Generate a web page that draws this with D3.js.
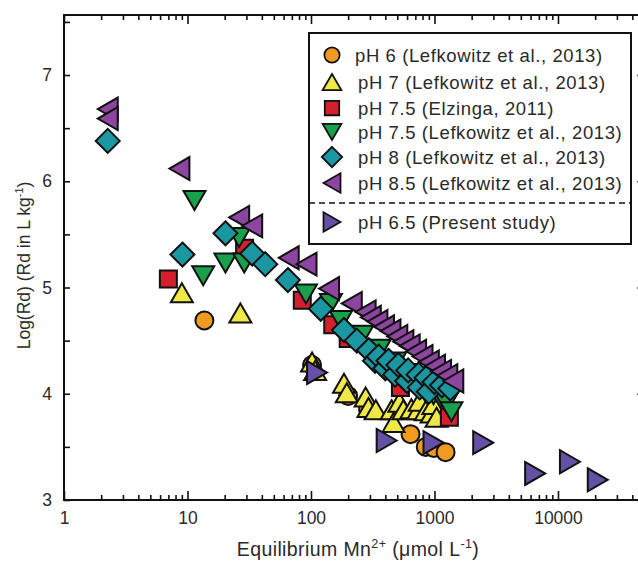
<!DOCTYPE html>
<html>
<head>
<meta charset="utf-8">
<script src="https://cdn.jsdelivr.net/npm/d3@7"></script>
<style>
body { margin: 0; background: #fff; }
text { font-family: "Liberation Sans", Arial, sans-serif; fill: #2a2a2a; }
</style>
</head>
<body>
<svg id="chart" width="638" height="561"></svg>
<script>
// dati: Mn2+ all'equilibrio (umol/L) e log(Rd)
const ph6_x = [13.7, 102, 200, 290, 640, 850, 990, 1230]
const ph6_y = [4.69, 4.27, 3.98, 3.85, 3.62, 3.50, 3.49, 3.45]

const ph7_x = [9.0, 26.8, 102, 108, 185, 195, 277, 292, 335, 450, 466, 520, 560, 650, 740, 760, 850, 950, 980, 1040]
const ph7_y = [4.95, 4.76, 4.30, 4.22, 4.10, 4.01, 3.97, 3.87, 3.85, 3.85, 3.73, 3.92, 3.85, 3.86, 3.85, 3.93, 3.84, 3.82, 3.90, 3.78]

const ph75e_x = [7.0, 29, 85, 150, 200, 530, 1320]
const ph75e_y = [5.08, 5.37, 4.88, 4.65, 4.52, 4.06, 3.78]

const ph75_x = [11.4, 13.4, 20.3, 26.2, 28.8, 91, 145, 175, 260, 360, 480, 600, 743, 862, 982, 1117, 1250, 1371]
const ph75_y = [5.82, 5.11, 5.23, 5.47, 5.23, 4.94, 4.85, 4.69, 4.55, 4.42, 4.30, 4.19, 4.08, 4.03, 3.99, 3.96, 3.91, 3.83]

const ph8_x = [2.26, 9.1, 20.3, 33.4, 42.6, 65, 120, 185, 235, 294, 330, 353, 400, 424, 480, 510, 600, 612, 743, 760, 862, 900, 1000, 1150, 1340]
const ph8_y = [6.38, 5.31, 5.51, 5.32, 5.22, 5.07, 4.80, 4.60, 4.50, 4.41, 4.31, 4.35, 4.24, 4.31, 4.18, 4.27, 4.12, 4.22, 4.18, 4.06, 4.15, 4.02, 4.11, 4.08, 4.05]

const ph85_x = [2.26, 2.26, 8.6, 26.2, 33.4, 66, 92, 140, 214, 277, 305, 345, 390, 440, 500, 560, 630, 710, 800, 900, 1010, 1130, 1270, 1420]
const ph85_y = [6.68, 6.59, 6.12, 5.66, 5.58, 5.28, 5.22, 4.99, 4.85, 4.77, 4.72, 4.68, 4.63, 4.59, 4.54, 4.49, 4.45, 4.40, 4.35, 4.30, 4.26, 4.21, 4.17, 4.12]

const ph65_x = [112, 410, 982, 2480, 6530, 12500, 21000]
const ph65_y = [4.20, 3.56, 3.54, 3.54, 3.25, 3.36, 3.19]

const x_major = [1, 10, 100, 1000, 10000]
const y_major = [3, 4, 5, 6, 7]
const y_minor = [3.5, 4.5, 5.5, 6.5, 7.5]

const legend_labels = [
    "pH 6 (Lefkowitz et al., 2013)",
    "pH 7 (Lefkowitz et al., 2013)",
    "pH 7.5 (Elzinga, 2011)",
    "pH 7.5 (Lefkowitz et al., 2013)",
    "pH 8 (Lefkowitz et al., 2013)",
    "pH 8.5 (Lefkowitz et al., 2013)",
    "pH 6.5 (Present study)"
]

const serie = [
    {x: ph6_x, y: ph6_y, shape: "circle", color: "#F09A20"},
    {x: ph7_x, y: ph7_y, shape: "up", color: "#F0E845"},
    {x: ph75e_x, y: ph75e_y, shape: "square", color: "#D4202D"},
    {x: ph75_x, y: ph75_y, shape: "down", color: "#18A04C"},
    {x: ph8_x, y: ph8_y, shape: "diamond", color: "#1B97A2"},
    {x: ph85_x, y: ph85_y, shape: "left", color: "#8D45A0"},
    {x: ph65_x, y: ph65_y, shape: "right", color: "#6451A6"}
]

var svg = d3.select('#chart')
const pLeft = 64, pRight = 644.3, pTop = 15, pBottom = 500

const xs = d3.scaleLog().domain([1, 50000]).range([pLeft, pRight])
const ys = d3.scaleLinear().domain([3, 7.565]).range([pBottom, pTop])

var x_minor = []
x_major.forEach(m => { for (let k = 2; k <= 9; k++) if (m * k < 50000) x_minor.push(m * k) })

// forme dei marker, s = scala
function forma(tipo, s) {
    s = s || 1
    switch (tipo) {
        case "circle": { let r = 9 * s; return `M${-r},0A${r},${r} 0 1,0 ${r},0A${r},${r} 0 1,0 ${-r},0Z` }
        case "square": { let h = 8.5 * s; return `M${-h},${-h}H${h}V${h}H${-h}Z` }
        case "diamond": { let h = 12 * s; return `M0,${-h}L${h},0L0,${h}L${-h},0Z` }
        case "up": { let w = 11 * s, h = 9.5 * s; return `M0,${-h}L${w},${h}L${-w},${h}Z` }
        case "down": { let w = 11 * s, h = 9.5 * s; return `M0,${h}L${w},${-h}L${-w},${-h}Z` }
        case "left": { let w = 10 * s, h = 11.5 * s; return `M${-w},0L${w},${-h}L${w},${h}Z` }
        case "right": { let w = 10 * s, h = 11.5 * s; return `M${w},0L${-w},${-h}L${-w},${h}Z` }
    }
}

// punti
serie.forEach((sr, i) => {
    svg.append("g").selectAll("path")
        .data(sr.x.map((v, j) => [v, sr.y[j]]))
        .enter().append("path")
        .attr("d", forma(sr.shape))
        .attr("transform", d => `translate(${xs(d[0])},${ys(d[1])})`)
        .attr("fill", sr.color)
        .attr("stroke", "#111")
        .attr("stroke-width", 2)
        .attr("stroke-linejoin", "miter")
})

// assi
function asse(gen, valori, lung, pos, etichette) {
    var g = svg.append("g").attr("transform", pos)
        .call(gen.tickValues(valori).tickSize(lung).tickSizeOuter(0).tickPadding(12)
            .tickFormat(etichette ? d => d : ""))
    g.select(".domain").remove()
    g.selectAll("line").attr("stroke", "#111").attr("stroke-width", 1.6)
    g.selectAll("text").attr("font-size", "17.5px").attr("fill", "#2a2a2a")
        .attr("font-family", '"Liberation Sans", Arial, sans-serif')
    return g
}
asse(d3.axisBottom(xs), x_major, -9, `translate(0,${pBottom})`, true)
asse(d3.axisBottom(xs), x_minor, -5, `translate(0,${pBottom})`, false)
asse(d3.axisTop(xs), x_major, -9, `translate(0,${pTop})`, false)
asse(d3.axisTop(xs), x_minor, -5, `translate(0,${pTop})`, false)
asse(d3.axisLeft(ys), y_major, -6, `translate(${pLeft},0)`, true)
asse(d3.axisLeft(ys), y_minor, -6, `translate(${pLeft},0)`, false)
asse(d3.axisRight(ys), y_major, -7, `translate(${pRight},0)`, false)

svg.append("rect")
    .attr("x", pLeft).attr("y", pTop)
    .attr("width", pRight - pLeft).attr("height", pBottom - pTop)
    .attr("fill", "none").attr("stroke", "#111").attr("stroke-width", 2)

// titoli
var ty = svg.append("text")
    .attr("transform", `translate(30,${(pTop + pBottom) / 2 + 8}) rotate(-90)`)
    .attr("text-anchor", "middle").attr("font-size", "17.5px")
ty.append("tspan").text("Log(Rd) (Rd in L kg")
ty.append("tspan").attr("font-size", "11px").attr("dy", -7).text("-1")
ty.append("tspan").attr("dy", 7).text(")")

var tx = svg.append("text")
    .attr("x", 358).attr("y", 556)
    .attr("text-anchor", "middle").attr("font-size", "19.5px")
    .attr("letter-spacing", "0.4px")
tx.append("tspan").text("Equilibrium Mn")
tx.append("tspan").attr("font-size", "12.5px").attr("dy", -8).text("2+")
tx.append("tspan").attr("dy", 8).text(" (μmol L")
tx.append("tspan").attr("font-size", "12.5px").attr("dy", -8).text("-1")
tx.append("tspan").attr("dy", 8).text(")")

// legenda
const ly = [55, 82, 108, 132, 157, 183, 222]
var leg = svg.append("g")
leg.append("rect")
    .attr("x", 309).attr("y", 33).attr("width", 322).attr("height", 211)
    .attr("fill", "#fff").attr("stroke", "#111").attr("stroke-width", 2)
leg.append("line")
    .attr("x1", 309).attr("x2", 631).attr("y1", 203).attr("y2", 203)
    .attr("stroke", "#111").attr("stroke-width", 1.6).attr("stroke-dasharray", "6,4")
leg.selectAll("path.sym")
    .data(serie).enter().append("path")
    .attr("class", "sym")
    .attr("d", d => forma(d.shape, 0.85))
    .attr("transform", (d, i) => `translate(332,${ly[i]})`)
    .attr("fill", d => d.color)
    .attr("stroke", "#111").attr("stroke-width", 1.8)
leg.selectAll("text")
    .data(legend_labels).enter().append("text")
    .attr("x", (d, i) => i == 0 ? 355 : 358)
    .attr("y", (d, i) => ly[i] + 6.5)
    .attr("font-size", "18.5px")
    .attr("letter-spacing", "0.6px")
    .text(d => d)
</script>
</body>
</html>
